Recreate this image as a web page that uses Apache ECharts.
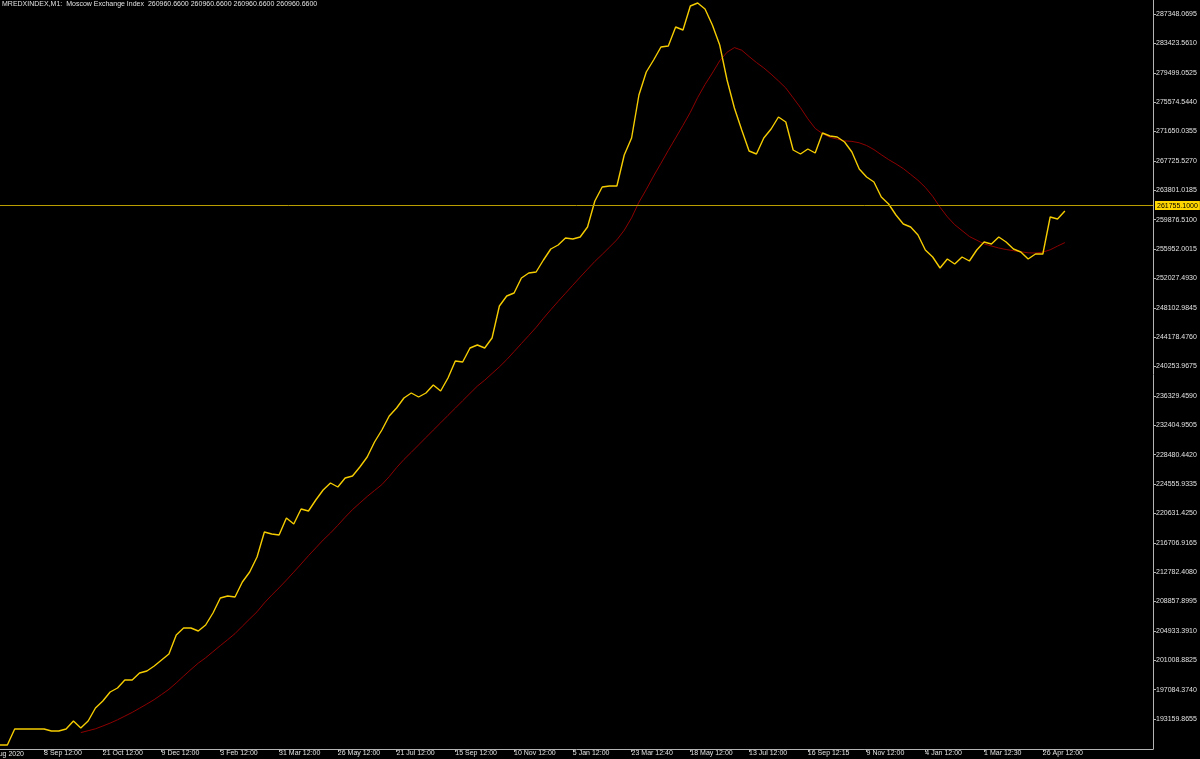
<!DOCTYPE html>
<html>
<head>
<meta charset="utf-8">
<script src="https://cdn.jsdelivr.net/npm/echarts@6/dist/echarts.min.js"></script>
<style>
html,body{margin:0;padding:0;background:#000;}
#c{width:1200px;height:759px;}
</style>
</head>
<body>
<div id="c"></div>
<script>
// ---- data ----
const titleText = 'MREDXINDEX,M1:  Moscow Exchange Index  260960.6600 260960.6600 260960.6600 260960.6600';
const firstDateLabel = '14 Aug 2020';
const xLabels = ['8 Sep 12:00','21 Oct 12:00','9 Dec 12:00','3 Feb 12:00','31 Mar 12:00','26 May 12:00',
  '21 Jul 12:00','15 Sep 12:00','10 Nov 12:00','5 Jan 12:00','23 Mar 12:40','18 May 12:00',
  '13 Jul 12:00','16 Sep 12:15','9 Nov 12:00','4 Jan 12:00','1 Mar 12:30','26 Apr 12:00'];
const yTickLabels = ['193159.8655','197084.3740','201008.8825','204933.3910','208857.8995','212782.4080',
  '216706.9165','220631.4250','224555.9335','228480.4420','232404.9505','236329.4590','240253.9675',
  '244178.4760','248102.9845','252027.4930','255952.0015','259876.5100','263801.0185','267725.5270',
  '271650.0355','275574.5440','279499.0525','283423.5610','287348.0695'];
const priceLevel = 261755.1;
const priceLabel = '261755.1000';

const closeValues = [
189686,189686,191824,191824,191824,191824,191824,191556,191556,191824,
192892,191957,192892,194629,195564,196767,197301,198370,198370,199305,
199572,200240,201042,201844,204382,205317,205317,204916,205718,207321,
209325,209592,209459,211463,212799,214803,218143,217876,217742,220013,
219212,221216,220948,222418,223754,224689,224155,225357,225624,226827,
228163,230167,231770,233640,234709,236045,236713,236179,236713,237782,
236980,238717,240988,240855,242725,243126,242725,244061,248336,249672,
250073,252077,252745,252879,254482,255952,256486,257421,257288,257555,
258891,262364,264235,264368,264368,268510,270781,276526,279599,281202,
282939,283072,285611,285210,288416,288817,288016,285878,283206,278530,
274789,271850,269044,268644,270781,271984,273587,272919,269178,268644,
269312,268777,271449,271048,270915,270247,268911,266640,265571,264903,
262899,261964,260494,259292,258891,257822,255818,254883,253413,254616,
253948,254883,254348,255818,256887,256620,257555,256887,255952,255551,
254616,255284,255284,260227,259960,261028
];
const maValues = [
null,null,null,null,null,null,null,null,null,null,null,
191343,191596,191850,192224,192612,193053,193547,194041,194602,
195164,195751,196433,197128,197983,198891,199773,200628,201336,202151,
202966,203754,204569,205558,206533,207482,208671,209713,210688,211717,
212785,213868,214976,216019,217074,218009,219038,220120,221135,222017,
222886,223687,224475,225544,226747,227829,228791,229779,230768,231757,
232732,233721,234696,235684,236660,237635,238423,239318,240200,241175,
242244,243326,244395,245477,246693,247842,248951,250033,251115,252197,
253253,254295,255230,256205,257181,258463,260120,262204,263901,265704,
267401,269125,270795,272478,274215,276192,277929,279465,281095,282244,
282859,282511,281670,280868,280147,279305,278410,277461,276152,274829,
273346,272064,271356,270875,270634,270407,270327,270140,269779,269231,
268550,267895,267321,266693,265918,265130,264181,262992,261536,260254,
259198,258410,257622,257127,256633,256352,256085,255885,255724,255578,
255444,255417,255537,255845,256339,256807
];

// ---- layout ----
const SLOTS = 158, FIRST_LABEL = 6, LABEL_STEP = 8;
const categories = [];
for (let i = 0; i < SLOTS; i++) {
  const j = (i - FIRST_LABEL) / LABEL_STEP;
  categories.push(i >= FIRST_LABEL && Number.isInteger(j) && j < xLabels.length ? xLabels[j] : '');
}
const yTickValues = yTickLabels.map(parseFloat);
const showX = (idx) => categories[idx] !== '';

const FONT = 'Liberation Sans';
const TXT = '#e0e0e0';
const AXIS = '#b4b4b4';

const chart = echarts.init(document.getElementById('c'), null, {renderer: 'canvas'});
chart.setOption({
  backgroundColor: '#000000',
  animation: false,
  grid: {left: 0, right: 47, top: 0, bottom: 10, containLabel: false},
  xAxis: {
    type: 'category',
    data: categories,
    boundaryGap: false,
    axisLine: {show: true, lineStyle: {color: AXIS, width: 1}},
    axisTick: {show: true, interval: showX, length: 3, lineStyle: {color: AXIS}},
    axisLabel: {interval: showX, align: 'left', margin: 1, color: TXT, fontSize: 7, fontFamily: FONT},
    splitLine: {show: false}
  },
  yAxis: {
    type: 'value',
    position: 'right',
    min: 189151.9,
    max: 289218.5,
    scale: true,
    axisLine: {show: true, lineStyle: {color: AXIS, width: 1}},
    axisTick: {show: true, customValues: yTickValues, length: 3, lineStyle: {color: AXIS}},
    axisLabel: {
      customValues: yTickValues, margin: 3, color: TXT, fontSize: 7, fontFamily: FONT,
      formatter: function (v) {
        let best = 0, d = Infinity;
        yTickValues.forEach((t, i) => { if (Math.abs(t - v) < d) { d = Math.abs(t - v); best = i; } });
        return yTickLabels[best];
      }
    },
    splitLine: {show: false}
  },
  graphic: [
    {type: 'text', left: 2, top: 1, silent: true,
     style: {text: titleText, fill: TXT, font: '7px "' + FONT + '"'}},
    {type: 'text', x: 24, y: 751, silent: true,
     style: {text: firstDateLabel, fill: TXT, font: '7px "' + FONT + '"', align: 'right', verticalAlign: 'top'}}
  ],
  series: [
    {
      type: 'line',
      name: 'MA',
      data: maValues,
      showSymbol: false,
      symbol: 'none',
      connectNulls: false,
      lineStyle: {color: '#8e0000', width: 1},
      z: 2
    },
    {
      type: 'line',
      name: 'Close',
      data: closeValues,
      showSymbol: false,
      symbol: 'none',
      lineStyle: {color: '#f5cc00', width: 1.4},
      z: 3,
      markLine: {
        silent: true,
        symbol: ['none', 'none'],
        lineStyle: {color: '#b89e00', width: 1, type: 'solid'},
        label: {
          show: true, position: 'end', distance: 2, formatter: priceLabel,
          backgroundColor: '#ffd700', color: '#000000', fontSize: 7, fontFamily: FONT,
          padding: [1, 2, 1, 2]
        },
        data: [{yAxis: priceLevel}]
      }
    }
  ]
});
</script>
</body>
</html>
